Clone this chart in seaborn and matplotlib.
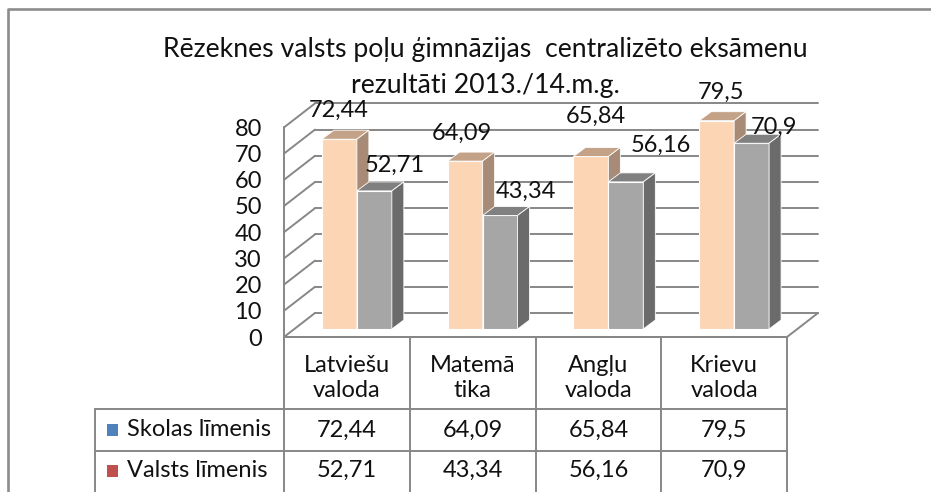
import matplotlib
matplotlib.use("Agg")
import pandas as pd
import matplotlib.pyplot as plt
import seaborn as sns
from matplotlib import transforms
from matplotlib.patches import Polygon, Rectangle

# data
subjects = ["Latviešu\nvaloda", "Matemā\ntika", "Angļu\nvaloda", "Krievu\nvaloda"]
series = ["Skolas līmenis", "Valsts līmenis"]
skolas = [72.44, 64.09, 65.84, 79.5]
valsts = [52.71, 43.34, 56.16, 70.9]
yticks = [0, 10, 20, 30, 40, 50, 60, 70, 80]
title = ["Rēzeknes valsts poļu ģimnāzijas  centralizēto eksāmenu",
         "rezultāti 2013./14.m.g."]

# colours (front, top, side) for the fake 3D bars
peach = ("#FCD5B5", "#C4A288", "#A88B76")
grey = ("#A6A6A6", "#808080", "#6B6B6B")
key_cols = ["#4F81BD", "#C0504D"]
line_col = "#878787"
txt_col = "#111111"

# label nudges in pixels (dx, dy) relative to the bar top centre
nudges = [[(-1, 29), (-3, 28), (5, 40), (4, 28)],
          [(20, 26), (26, 24), (35, 37), (22, 16)]]


def fmt(v):
    return f"{v:g}".replace(".", ",")


def main():
    sns.set_style("white")
    plt.rcParams["font.family"] = ["Lato", "DejaVu Sans"]
    fs = 17

    W, H = 931, 492
    fig = plt.figure(figsize=(W / 100, H / 100), dpi=100)

    # background axes in pixel units for border, title and the data table
    bg = fig.add_axes([0, 0, 1, 1])
    bg.set_xlim(0, W)
    bg.set_ylim(H, 0)
    bg.axis("off")

    # front plane of the 3D box
    x0, x1, y0 = 284, 787, 337
    px_val = 2.62
    px_cat = (x1 - x0) / len(subjects)
    ax = fig.add_axes([x0 / W, (H - y0) / H, (x1 - x0) / W, 80 * px_val / H])
    ax.patch.set_alpha(0)

    def to_data(dx, dy):
        return dx / px_cat, dy / px_val

    df = pd.DataFrame({
        "subject": subjects * 2,
        "series": [series[0]] * 4 + [series[1]] * 4,
        "score": skolas + valsts,
    })
    sns.barplot(data=df, x="subject", y="score", hue="series", order=subjects,
                hue_order=series, palette=[peach[0], grey[0]], saturation=1,
                width=0.556, edgecolor="white", linewidth=0.8, legend=False, ax=ax)
    ax.set_xlim(-0.5, 3.5)
    ax.set_ylim(0, 80)

    # walls and gridlines
    Dx, Dy = to_data(31, 24)
    lw = 1.4
    for v in yticks:
        ax.plot([-0.5 + Dx, 3.5 + Dx], [v + Dy, v + Dy], color=line_col, lw=lw,
                zorder=1, clip_on=False)
        ax.plot([-0.5, -0.5 + Dx], [v, v + Dy], color=line_col, lw=lw,
                zorder=1, clip_on=False)
    ax.plot([-0.5, -0.5], [0, 80], color=line_col, lw=lw, zorder=1, clip_on=False)
    ax.plot([-0.5, 3.5], [0, 0], color=line_col, lw=lw, zorder=1, clip_on=False)
    ax.plot([3.5, 3.5 + Dx], [0, Dy], color=line_col, lw=lw, zorder=1, clip_on=False)

    # push bars to the middle of the box and add tops and sides
    bar_tr = transforms.offset_copy(ax.transData, fig=fig, x=10, y=8, units="dots")
    Tx, Ty = to_data(12, 9)
    bars = list(ax.patches)
    n = len(subjects)
    for k, p in enumerate(bars):
        s = k // n
        i = k % n
        cols = peach if s == 0 else grey
        z = 2 + s
        p.set_transform(bar_tr)
        p.set_clip_on(False)
        p.set_zorder(z)
        x, w, h = p.get_x(), p.get_width(), p.get_height()
        top = Polygon([(x, h), (x + w, h), (x + w + Tx, h + Ty), (x + Tx, h + Ty)],
                      closed=True, transform=bar_tr, fc=cols[1], ec="white",
                      lw=0.6, zorder=z, clip_on=False)
        side = Polygon([(x + w, 0), (x + w + Tx, Ty), (x + w + Tx, h + Ty), (x + w, h)],
                       closed=True, transform=bar_tr, fc=cols[2], ec="white",
                       lw=0.6, zorder=z, clip_on=False)
        ax.add_patch(top)
        ax.add_patch(side)
        dx, dy = nudges[s][i]
        ax.annotate(fmt(h), xy=(x + w / 2, h), xycoords=bar_tr, xytext=(dx, dy),
                    textcoords="offset pixels", ha="center", va="center",
                    fontsize=fs, color=txt_col, zorder=5, annotation_clip=False)

    ax.set_yticks(yticks)
    ax.set_yticklabels([str(t) for t in yticks], fontsize=fs, color=txt_col)
    ax.tick_params(axis="y", length=0, pad=16)
    ax.set_xticks([])
    ax.set_xlabel("")
    ax.set_ylabel("")
    for sp in ax.spines.values():
        sp.set_visible(False)

    # outer border
    bg.plot([8, 8, W + 5], [H + 5, 9, 9], color="#8C8C8C", lw=1.9)

    # title
    bg.text(485, 50, title[0], ha="center", va="center", fontsize=19.2, color=txt_col)
    bg.text(485, 86, title[1], ha="center", va="center", fontsize=19.2, color=txt_col)

    # data table
    cx = [x0 + px_cat * j for j in range(n + 1)]
    rows = [409, 451, H + 5]
    tl = dict(color=line_col, lw=1.4)
    for xv in cx:
        bg.plot([xv, xv], [y0, H + 5], **tl)
    bg.plot([95, 95], [rows[0], H + 5], **tl)
    bg.plot([x0, x1], [y0, y0], **tl)
    for yv in rows[:2]:
        bg.plot([95, x1], [yv, yv], **tl)
    for j, name in enumerate(subjects):
        bg.text(cx[j] + px_cat / 2, 378, name, ha="center", va="center",
                fontsize=fs, linespacing=1.25, color=txt_col)
    for r, vals in enumerate([skolas, valsts]):
        yc = (rows[r] + min(rows[r + 1], H)) / 2 + (0 if r == 0 else -1)
        bg.add_patch(Rectangle((107, yc - 6), 11, 12, fc=key_cols[r], ec="none"))
        bg.text(127, yc, series[r], ha="left", va="center", fontsize=fs, color=txt_col)
        for j, v in enumerate(vals):
            bg.text(cx[j] + px_cat / 2, yc, fmt(v), ha="center", va="center",
                    fontsize=fs, color=txt_col)

    fig.savefig("out.png", dpi=100)


if __name__ == "__main__":
    main()
